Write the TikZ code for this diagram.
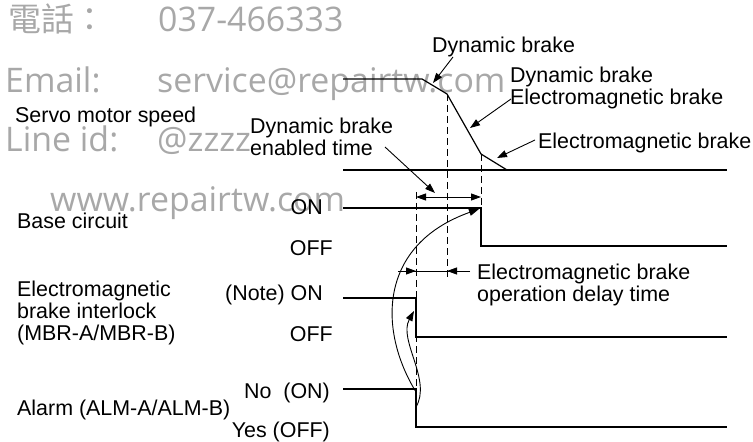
\documentclass[tikz,border=0pt]{standalone}
\usepackage{fontspec}
\setmainfont{Liberation Sans}
\newfontfamily\cjkfont{Noto Sans CJK TC}
\newfontfamily\wmfont{Open Sans}
\usetikzlibrary{arrows.meta,positioning}
\definecolor{wmgray}{RGB}{168,168,168}
\tikzset{
  lbl/.style={inner sep=0pt, font=\fontsize{21.5}{22.5}\selectfont},
  wmark/.style={inner sep=0pt, text=wmgray, font=\wmfont\fontsize{34}{40}\selectfont},
  wave/.style={line width=1.2bp},
  guide/.style={dash pattern=on 7bp off 4bp, line width=0.9bp},
  ptr/.style={line width=0.9bp, -{Triangle[length=10bp,width=7bp]}},
}

\begin{document}
\begin{tikzpicture}[x=1bp,y=-1bp]
\useasboundingbox (0,0) rectangle (753,442);
% watermark
\node[wmark, anchor=base west, font=\cjkfont\fontsize{33}{40}\selectfont] (W1) at (8,32) {電話：};
\node[wmark, anchor=base west] (W2) at (158,32) {037-466333};
\node[wmark, anchor=base west] (W3) at (5,93) {Email:};
\node[wmark, anchor=base west] (W4) at (157,93) {service@repairtw.com};
\node[wmark, anchor=base west] (W5) at (5,152) {Line id:};
\node[wmark, anchor=base west] (W6) at (157,152) {@zzzz};
\node[wmark, anchor=base west] (W7) at (50,212) {www.repairtw.com};

% corners of the waveforms
\coordinate (S0) at (343,79);
\coordinate (S1) at (422,79);
\coordinate (S2) at (447,94);
\coordinate (S3) at (481,154);
\coordinate (S4) at (507,170);
\coordinate (S5) at (727,170);
\coordinate (S6) at (343,170);
\coordinate (B0) at (343,208);
\coordinate (B1) at (481,208);
\coordinate (B2) at (481,246);
\coordinate (B3) at (727,246);
\coordinate (M0) at (343,298);
\coordinate (M1) at (416,298);
\coordinate (M2) at (416,337);
\coordinate (M3) at (727,337);
\coordinate (A0) at (343,389);
\coordinate (A1) at (416,389);
\coordinate (A2) at (416,427);
\coordinate (A3) at (727,427);

\draw[wave] (S0)--(S1)--(S2)--(S3)--(S4);
\draw[wave] (S6)--(S5);
\draw[wave] (B0)--(B1)--(B2)--(B3);
\draw[wave] (M0)--(M1)--(M2)--(M3);
\draw[wave] (A0)--(A1)--(A2)--(A3);

% guide lines
\coordinate (G1) at (416,192);
\coordinate (G2) at (447,278);
\draw[guide] (G1)--(A1);
\draw[guide] (S2)--(G2);
\draw[guide] (S3)--(B1);

% timings
\coordinate (T1) at (416,197);
\coordinate (T2) at (481,197);
\draw[line width=0.9bp, {Triangle[length=10bp,width=7bp]}-{Triangle[length=10bp,width=7bp]}] (T1)--(T2);
\coordinate (D0) at (398,271);
\coordinate (D1) at (416,271);
\coordinate (D2) at (447,271);
\coordinate (D3) at (470,271);
\draw[line width=0.8bp] (D0)--(D3);
\draw[ptr] (D0)--(D1);
\draw[ptr] (D3)--(D2);

% labels (base = last line)
\node[lbl, anchor=base west] (spd) at (15,123) {Servo motor speed};
\node[lbl, anchor=base west] (base) at (17,229) {Base circuit};
\node[lbl, anchor=base west, align=left] (mbr) at (17,341) {Electromagnetic\\brake interlock\\(MBR-A/MBR-B)};
\node[lbl, anchor=base west] (alm) at (17,415) {Alarm (ALM-A/ALM-B)};
\node[lbl, anchor=base east] (on1) at (323,215) {ON};
\node[lbl, anchor=base east] (off1) at (333,256) {OFF};
\node[lbl, anchor=base east] (on2) at (323,301) {(Note) ON};
\node[lbl, anchor=base east] (off2) at (333,342) {OFF};
\node[lbl, anchor=base east] (on3) at (330,398) {No\ \ (ON)};
\node[lbl, anchor=base east] (off3) at (330,437) {Yes (OFF)};
\node[lbl, anchor=base west] (db) at (432,53) {Dynamic brake};
\node[lbl, anchor=base west, align=left] (dbem) at (510,105) {Dynamic brake\\Electromagnetic brake};
\node[lbl, anchor=base west, align=left] (dbt) at (250,156) {Dynamic brake\\enabled time};
\node[lbl, anchor=base west] (em) at (538,149) {Electromagnetic brake};
\node[lbl, anchor=base west, align=left] (emd) at (477,302) {Electromagnetic brake\\operation delay time};

% pointers
\coordinate (P1) at (453,57);
\coordinate (Q1) at (433,83);
\coordinate (P2) at (511,99);
\coordinate (Q2) at (470,128);
\coordinate (P3) at (535,140);
\coordinate (Q3) at (497,158);
\coordinate (P4) at (385,147);
\coordinate (Q4) at (435,193);
\draw[ptr] (P1)--(Q1);
\draw[ptr] (P2)--(Q2);
\draw[ptr] (P3)--(Q3);
\draw[ptr] (P4)--(Q4);

% causes
\coordinate (C1) at (416,392);
\coordinate (C2) at (479,209);
\coordinate (C3) at (416,407);
\coordinate (C4) at (414,311);
\draw[ptr] (C1) .. controls (378,330) and (378,245) .. (C2);
\draw[ptr] (C3) .. controls (432,380) and (398,340) .. (C4);
\end{tikzpicture}
\end{document}
